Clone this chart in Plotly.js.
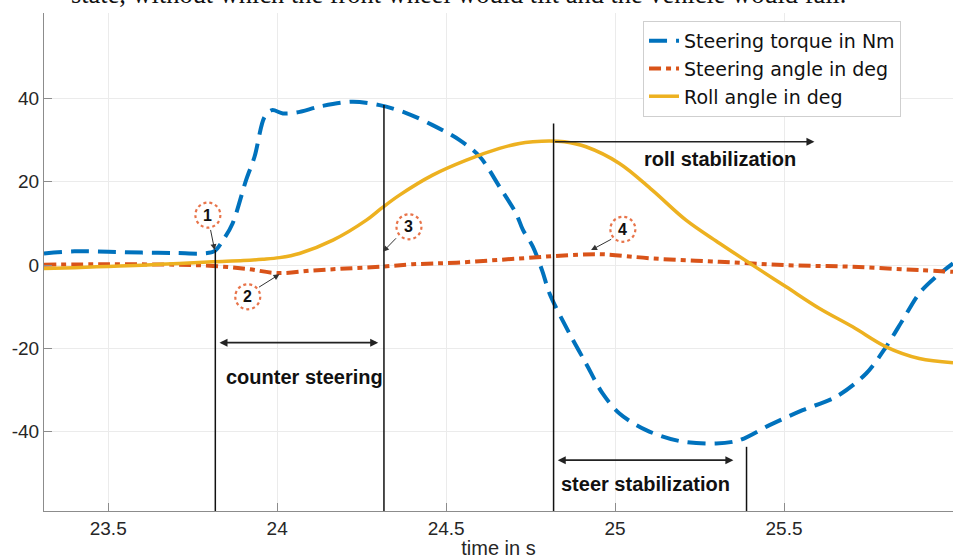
<!DOCTYPE html>
<html>
<head>
<meta charset="utf-8">
<script src="https://cdn.plot.ly/plotly-3.0.1.min.js"></script>
<style>html,body{margin:0;padding:0;background:#fff;}#chart{width:963px;height:559px;}</style>
</head>
<body>
<div id="chart"></div>
<script>
// ---- data ----
const torqueTime = [23.31, 23.4, 23.5, 23.6, 23.7, 23.78, 23.815, 23.84, 23.868, 23.908, 23.933, 23.963, 23.985, 24.017, 24.056, 24.134, 24.223, 24.303, 24.382, 24.46, 24.54, 24.6, 24.658, 24.707, 24.727, 24.757, 24.785, 24.806, 24.865, 24.914, 24.963, 25.013, 25.092, 25.19, 25.299, 25.368, 25.457, 25.555, 25.654, 25.743, 25.802, 25.851, 25.9, 25.95, 26.0];
const torqueNm   = [2.8, 3.3, 3.2, 3.0, 2.9, 2.8, 3.4, 6, 10, 20.4, 26, 35.6, 37.2, 36.4, 36.6, 38.2, 39.2, 38.4, 36.5, 33.6, 30, 26, 18.8, 12.4, 8.5, 4.4, -1.5, -6.8, -16.4, -23.6, -30.8, -35.6, -39.6, -42.2, -42.8, -42, -38.4, -34.8, -31.6, -26, -19.6, -13.2, -6.8, -2.8, 0.4];

const steerTime  = [23.31, 23.5, 23.7, 23.81, 23.91, 24.0, 24.105, 24.204, 24.303, 24.4, 24.53, 24.717, 24.865, 24.963, 25.11, 25.31, 25.506, 25.703, 25.9, 26.0];
const steerDeg   = [0.1, 0.2, 0.1, -0.2, -0.9, -1.9, -1.3, -0.8, -0.4, 0.2, 0.6, 1.6, 2.4, 2.6, 1.6, 0.8, 0.0, -0.4, -1.2, -1.6];

const rollTime   = [23.31, 23.4, 23.5, 23.6, 23.71, 23.81, 23.9, 23.957, 24.007, 24.066, 24.165, 24.264, 24.308, 24.362, 24.46, 24.56, 24.658, 24.717, 24.757, 24.806, 24.85, 24.914, 25.013, 25.11, 25.21, 25.31, 25.407, 25.506, 25.605, 25.703, 25.802, 25.9, 26.0];
const rollDeg    = [-0.8, -0.6, -0.3, 0, 0.4, 0.8, 1.1, 1.4, 1.8, 2.8, 6, 10.8, 13.6, 16.8, 21.6, 25.2, 28, 29.2, 29.6, 29.8, 29.6, 28.4, 24.4, 18, 10.8, 5.2, 0, -5.2, -10.4, -14.8, -19.6, -22.4, -23.4];

const seriesNames = ["Steering torque in Nm", "Steering angle in deg", "Roll angle in deg"];
const xTickVals = [23.5, 24, 24.5, 25, 25.5, 26];
const xTickText = ["23.5", "24", "24.5", "25", "25.5", "26"];
const yTickVals = [-40, -20, 0, 20, 40];
const yTickText = ["-40", "-20", "0", "20", "40"];

// event markers (vertical lines): time and upper end value
const eventTime = [23.817, 24.316, 24.818, 25.389];
const eventTop  = [3.6, 38.4, 34.0, -43.6];

// numbered callouts: circle centre, arrow tail, arrow head
const calloutLabel = ["1", "2", "3", "4"];
const calloutCx = [23.795, 23.913, 24.39, 25.023];
const calloutCy = [12.0, -7.6, 9.2, 8.6];
const calloutTailX = [23.802, 23.942, 24.356, 24.993];
const calloutTailY = [8.8, -5.5, 6.8, 6.4];
const calloutHeadX = [23.815, 24.007, 24.313, 24.929];
const calloutHeadY = [3.6, -2.2, 3.2, 3.6];

// phase arrows: start, end, level, label, label position
const phaseLabel = ["counter steering", "roll stabilization", "steer stabilization"];
const phaseStart = [23.825, 24.818, 24.826];
const phaseEnd   = [24.299, 25.59, 25.35];
const phaseLevel = [-18.6, 29.6, -46.8];
const phaseBoth  = [true, false, true];
const phaseTextX = [24.082, 25.31, 25.09];
const phaseTextY = [-26.9, 25.4, -52.6];

const captionText = "state, without which the front wheel would tilt and the vehicle would fall.";

// ---- figure ----
const traces = [
  {x: torqueTime, y: torqueNm, name: seriesNames[0], type: "scatter", mode: "lines",
   line: {color: "#0072BD", width: 4, dash: "18px,9px", shape: "spline", smoothing: 0.9}},
  {x: steerTime, y: steerDeg, name: seriesNames[1], type: "scatter", mode: "lines",
   line: {color: "#D95319", width: 4, dash: "12px,5px,5px,5px", shape: "spline", smoothing: 1}},
  {x: rollTime, y: rollDeg, name: seriesNames[2], type: "scatter", mode: "lines",
   line: {color: "#EDB120", width: 3.5, shape: "spline", smoothing: 1}}
];

const yBottom = -59;
const shapes = [];
const annotations = [];

eventTime.forEach((t, i) => {
  shapes.push({type: "line", xref: "x", yref: "y", x0: t, x1: t, y0: yBottom, y1: eventTop[i],
               line: {color: "#111", width: 1.5}});
});

calloutLabel.forEach((lab, i) => {
  shapes.push({type: "circle", xref: "x", yref: "y", xsizemode: "pixel", ysizemode: "pixel",
               xanchor: calloutCx[i], yanchor: calloutCy[i], x0: -12.5, x1: 12.5, y0: -12.5, y1: 12.5,
               line: {color: "#E8744A", width: 2.2, dash: "dot"}, fillcolor: "rgba(0,0,0,0)"});
  annotations.push({x: calloutCx[i], y: calloutCy[i], xref: "x", yref: "y", text: "<b>" + lab + "</b>",
                    showarrow: false, font: {family: "Liberation Sans, Arial, sans-serif", size: 16, color: "#111"}});
  annotations.push({x: calloutHeadX[i], y: calloutHeadY[i], ax: calloutTailX[i], ay: calloutTailY[i],
                    xref: "x", yref: "y", axref: "x", ayref: "y", text: "", showarrow: true,
                    arrowhead: 2, arrowsize: 1.2, arrowwidth: 1, arrowcolor: "#333"});
});

phaseLabel.forEach((lab, i) => {
  annotations.push({x: phaseEnd[i], y: phaseLevel[i], ax: phaseStart[i], ay: phaseLevel[i],
                    xref: "x", yref: "y", axref: "x", ayref: "y", text: "", showarrow: true,
                    arrowside: phaseBoth[i] ? "end+start" : "end",
                    arrowhead: 2, arrowsize: 1, arrowwidth: 1.6, arrowcolor: "#222"});
  annotations.push({x: phaseTextX[i], y: phaseTextY[i], xref: "x", yref: "y", text: "<b>" + lab + "</b>",
                    showarrow: false, font: {family: "Liberation Sans, Arial, sans-serif", size: 20, color: "#111"}});
});

annotations.push({x: 0.456, y: 1.005, xref: "paper", yref: "paper", xanchor: "center", yanchor: "bottom",
                  text: captionText, showarrow: false,
                  font: {family: "Liberation Serif, Times New Roman, serif", size: 26.4, color: "#111"}});

const axisFont = {family: "Liberation Sans, Arial, sans-serif", size: 19, color: "#262626"};

const layout = {
  width: 963, height: 559,
  margin: {l: 44, r: 10, t: 13, b: 48, pad: 0},
  paper_bgcolor: "#fff", plot_bgcolor: "#fff",
  showlegend: true,
  legend: {x: 0.659, y: 0.984, xanchor: "left", yanchor: "top",
           bgcolor: "#fff", bordercolor: "#cfcfcf", borderwidth: 1,
           font: {family: "DejaVu Sans, Liberation Sans, Arial, sans-serif", size: 19, color: "#111"},
           tracegroupgap: 0},
  xaxis: {range: [23.31, 26], tickvals: xTickVals, ticktext: xTickText,
          showgrid: true, gridcolor: "#ebebeb", zeroline: false,
          showline: true, linecolor: "#8c8c8c", linewidth: 1,
          ticks: "inside", ticklen: 8, tickcolor: "#8c8c8c",
          tickfont: axisFont,
          title: {text: "time in s", font: {family: "Liberation Sans, Arial, sans-serif", size: 20, color: "#262626"}, standoff: 2}},
  yaxis: {range: [-59, 60.5], tickvals: yTickVals, ticktext: yTickText,
          showgrid: true, gridcolor: "#ebebeb", zeroline: false,
          showline: true, linecolor: "#8c8c8c", linewidth: 1,
          ticks: "inside", ticklen: 8, tickcolor: "#8c8c8c",
          tickfont: axisFont},
  shapes: shapes,
  annotations: annotations
};

Plotly.newPlot("chart", traces, layout, {displayModeBar: false, staticPlot: true});
</script>
</body>
</html>
